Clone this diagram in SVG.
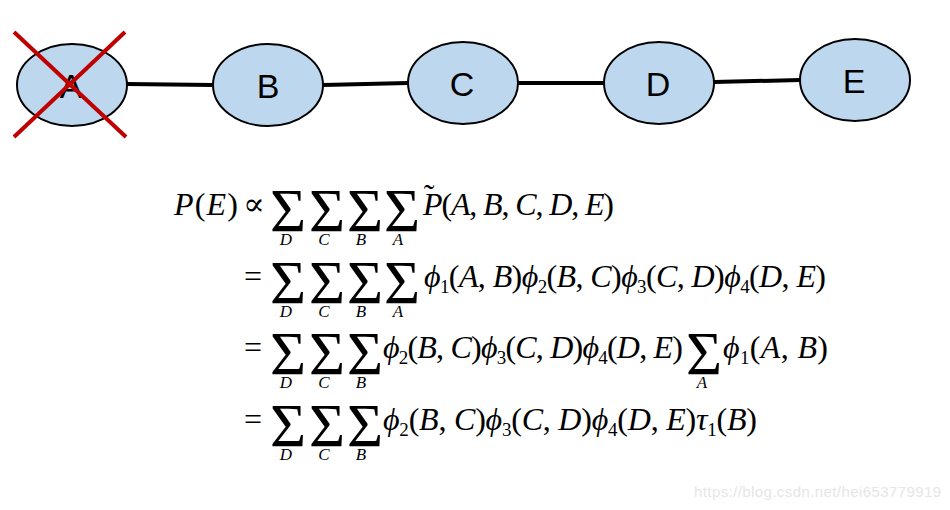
<svg xmlns="http://www.w3.org/2000/svg" width="950" height="510" viewBox="0 0 950 510">
<style>
.node{fill:#bdd7ee;stroke:#000;stroke-width:2}
.lbl{font-family:"Liberation Sans",Arial,sans-serif;font-size:34px;fill:#000;text-anchor:middle}
.edge{stroke:#000;stroke-width:4;fill:none}
.x{stroke:#c00000;stroke-width:4;stroke-linecap:butt}
.m{font-family:"Liberation Serif","DejaVu Serif","Times New Roman",serif;font-size:32px;fill:#000}
.i{font-style:italic}
.sum{font-family:"Liberation Serif","Times New Roman",serif;font-size:62px;fill:#000;text-anchor:middle}
.sub{font-family:"Liberation Serif","Times New Roman",serif;font-style:italic;font-size:17px;fill:#000;text-anchor:middle}
.d{font-size:19px}
.wm{font-family:"Liberation Sans",Arial,sans-serif;font-size:15px;fill:#e6e6e6}
</style>
<rect width="950" height="510" fill="#fff"/>
<g id="connectors">
<line class="edge" x1="127" y1="84" x2="213" y2="85"/>
<line class="edge" x1="323" y1="85" x2="408" y2="83"/>
<line class="edge" x1="518" y1="83" x2="604" y2="83"/>
<line class="edge" x1="714" y1="82" x2="800" y2="80"/>
</g>
<g id="node-A">
<ellipse class="node" cx="72" cy="85" rx="55" ry="41"/>
<text class="lbl" x="71" y="98">A</text>
<line class="x" x1="14" y1="32" x2="126" y2="137"/>
<line class="x" x1="125" y1="32" x2="14" y2="137"/>
</g>
<g id="node-B">
<ellipse class="node" cx="268" cy="85" rx="55" ry="41"/>
<text class="lbl" x="268" y="98">B</text>
</g>
<g id="node-C">
<ellipse class="node" cx="463" cy="83" rx="55" ry="41"/>
<text class="lbl" x="462" y="96">C</text>
</g>
<g id="node-D">
<ellipse class="node" cx="659" cy="83" rx="55" ry="41"/>
<text class="lbl" x="658" y="96">D</text>
</g>
<g id="node-E">
<ellipse class="node" cx="855" cy="80" rx="55" ry="41"/>
<text class="lbl" x="854" y="93">E</text>
</g>
<g id="equations">
<!-- line 1 -->
<text class="m" x="174" y="215" textLength="64" lengthAdjust="spacing"><tspan class="i">P</tspan>(<tspan class="i">E</tspan>)</text>
<text class="m" x="243" y="215">∝</text>
<text class="sum" x="288" y="231">Σ</text>
<text class="sum" x="327" y="231">Σ</text>
<text class="sum" x="365" y="231">Σ</text>
<text class="sum" x="402" y="231">Σ</text>
<text class="sub" x="286" y="245">D</text>
<text class="sub" x="324" y="245">C</text>
<text class="sub" x="361" y="245">B</text>
<text class="sub" x="398" y="245">A</text>
<text class="m" x="429" y="206" font-size="30" text-anchor="middle">˜</text>
<text class="m" x="423" y="215" textLength="191" lengthAdjust="spacing"><tspan class="i">P</tspan>(<tspan class="i">A</tspan>, <tspan class="i">B</tspan>, <tspan class="i">C</tspan>, <tspan class="i">D</tspan>, <tspan class="i">E</tspan>)</text>
<!-- line 2 -->
<text class="m" x="244" y="287">=</text>
<text class="sum" x="288" y="303">Σ</text>
<text class="sum" x="327" y="303">Σ</text>
<text class="sum" x="365" y="303">Σ</text>
<text class="sum" x="402" y="303">Σ</text>
<text class="sub" x="286" y="317">D</text>
<text class="sub" x="324" y="317">C</text>
<text class="sub" x="361" y="317">B</text>
<text class="sub" x="398" y="317">A</text>
<text class="m" x="424" y="287" textLength="402" lengthAdjust="spacing"><tspan class="i">ϕ</tspan><tspan class="d" dy="6">1</tspan><tspan dy="-6">(</tspan><tspan class="i">A</tspan>, <tspan class="i">B</tspan>)<tspan class="i">ϕ</tspan><tspan class="d" dy="6">2</tspan><tspan dy="-6">(</tspan><tspan class="i">B</tspan>, <tspan class="i">C</tspan>)<tspan class="i">ϕ</tspan><tspan class="d" dy="6">3</tspan><tspan dy="-6">(</tspan><tspan class="i">C</tspan>, <tspan class="i">D</tspan>)<tspan class="i">ϕ</tspan><tspan class="d" dy="6">4</tspan><tspan dy="-6">(</tspan><tspan class="i">D</tspan>, <tspan class="i">E</tspan>)</text>
<!-- line 3 -->
<text class="m" x="244" y="358">=</text>
<text class="sum" x="288" y="374">Σ</text>
<text class="sum" x="327" y="374">Σ</text>
<text class="sum" x="365" y="374">Σ</text>
<text class="sub" x="286" y="388">D</text>
<text class="sub" x="324" y="388">C</text>
<text class="sub" x="361" y="388">B</text>
<text class="m" x="383" y="358" textLength="300" lengthAdjust="spacing"><tspan class="i">ϕ</tspan><tspan class="d" dy="6">2</tspan><tspan dy="-6">(</tspan><tspan class="i">B</tspan>, <tspan class="i">C</tspan>)<tspan class="i">ϕ</tspan><tspan class="d" dy="6">3</tspan><tspan dy="-6">(</tspan><tspan class="i">C</tspan>, <tspan class="i">D</tspan>)<tspan class="i">ϕ</tspan><tspan class="d" dy="6">4</tspan><tspan dy="-6">(</tspan><tspan class="i">D</tspan>, <tspan class="i">E</tspan>)</text>
<text class="sum" x="704" y="374">Σ</text>
<text class="sub" x="702" y="388">A</text>
<text class="m" x="723" y="358" textLength="105" lengthAdjust="spacing"><tspan class="i">ϕ</tspan><tspan class="d" dy="6">1</tspan><tspan dy="-6">(</tspan><tspan class="i">A</tspan>, <tspan class="i">B</tspan>)</text>
<!-- line 4 -->
<text class="m" x="244" y="430">=</text>
<text class="sum" x="288" y="446">Σ</text>
<text class="sum" x="327" y="446">Σ</text>
<text class="sum" x="365" y="446">Σ</text>
<text class="sub" x="286" y="460">D</text>
<text class="sub" x="324" y="460">C</text>
<text class="sub" x="361" y="460">B</text>
<text class="m" x="383" y="430" textLength="374" lengthAdjust="spacing"><tspan class="i">ϕ</tspan><tspan class="d" dy="6">2</tspan><tspan dy="-6">(</tspan><tspan class="i">B</tspan>, <tspan class="i">C</tspan>)<tspan class="i">ϕ</tspan><tspan class="d" dy="6">3</tspan><tspan dy="-6">(</tspan><tspan class="i">C</tspan>, <tspan class="i">D</tspan>)<tspan class="i">ϕ</tspan><tspan class="d" dy="6">4</tspan><tspan dy="-6">(</tspan><tspan class="i">D</tspan>, <tspan class="i">E</tspan>)<tspan class="i">τ</tspan><tspan class="d" dy="6">1</tspan><tspan dy="-6">(</tspan><tspan class="i">B</tspan>)</text>
</g>
<text class="wm" x="694" y="497" textLength="247" lengthAdjust="spacing">https://blog.csdn.net/hei653779919</text>
</svg>
